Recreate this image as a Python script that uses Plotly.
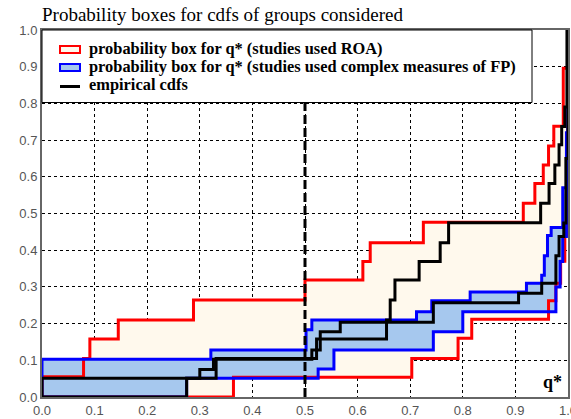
import plotly.graph_objects as go

# ---------------- data ----------------
# Probability box for q* (studies used ROA): upper (left) and lower (right) bounds
ROA_UPPER_X = [0.0, 0.079, 0.091, 0.145, 0.288, 0.500, 0.610, 0.624, 0.725, 0.915, 0.937, 0.953, 0.963, 0.973, 0.991, 1.0]
ROA_UPPER_Y = [0.055, 0.105, 0.158, 0.210, 0.264, 0.319, 0.369, 0.420, 0.476, 0.528, 0.582, 0.632, 0.684, 0.738, 0.896, 1.0]
ROA_LOWER_X = [0.364, 0.703, 0.791, 0.817, 0.963, 0.977, 0.986, 0.994, 1.0]
ROA_LOWER_Y = [0.054, 0.105, 0.160, 0.212, 0.262, 0.310, 0.370, 0.440, 1.0]

# Probability box for q* (studies used complex measures of FP)
CFP_UPPER_X = [0.0, 0.321, 0.502, 0.513, 0.712, 0.741, 0.814, 0.921, 0.950, 0.955, 0.961, 0.968, 0.990, 0.997, 1.0]
CFP_UPPER_Y = [0.103, 0.128, 0.183, 0.210, 0.232, 0.262, 0.286, 0.310, 0.332, 0.385, 0.440, 0.462, 0.570, 0.720, 1.0]
CFP_LOWER_X = [0.275, 0.525, 0.555, 0.744, 0.800, 0.977, 0.985, 0.990, 0.997, 1.0]
CFP_LOWER_Y = [0.051, 0.076, 0.128, 0.178, 0.232, 0.300, 0.369, 0.437, 0.550, 1.0]

# Empirical cdfs
ECDF_ROA_X = [0.275, 0.331, 0.522, 0.655, 0.662, 0.671, 0.717, 0.757, 0.773, 0.948, 0.964, 0.975, 0.983, 0.988, 0.994, 0.998]
ECDF_ROA_Y = [0.051, 0.105, 0.158, 0.210, 0.264, 0.319, 0.369, 0.420, 0.475, 0.528, 0.582, 0.632, 0.687, 0.737, 0.790, 1.0]
ECDF_CFP_X = [0.0, 0.300, 0.326, 0.513, 0.529, 0.567, 0.744, 0.906, 0.950, 0.977, 0.983, 0.992, 0.996, 1.0]
ECDF_CFP_Y = [0.051, 0.075, 0.103, 0.128, 0.178, 0.204, 0.257, 0.283, 0.310, 0.385, 0.437, 0.474, 0.650, 1.0]

THRESHOLD_Q = 0.5
TICKS = [round(i * 0.1, 1) for i in range(11)]
TICK_LABELS = [f"{t:.1f}" for t in TICKS]

LEGEND_NAMES = [
    "probability box for q* (studies used ROA)",
    "probability box for q* (studies used complex measures of FP)",
    "empirical cdfs",
]
TITLE = "Probability boxes for cdfs of groups considered"
AXIS_LABEL = "q*"


def steps(xs, ys):
    """Vertices of a right-continuous step cdf starting at (0, 0)."""
    px, py = [0.0], [0.0]
    cur = 0.0
    for x, y in zip(xs, ys):
        px += [x, x]
        py += [cur, y]
        cur = y
    return px, py


RED = "#FF0000"
BLUE = "#0000FF"
BEIGE = "rgb(255,249,237)"
LIGHTBLUE = "rgb(166,200,238)"
SERIF = "Liberation Serif, Times New Roman, serif"
SANS = "Liberation Sans, Arial, sans-serif"

fig = go.Figure()

# filled p-boxes
for (ux, uy, lx, ly, fillc, linec, name) in [
    (ROA_UPPER_X, ROA_UPPER_Y, ROA_LOWER_X, ROA_LOWER_Y, BEIGE, RED, LEGEND_NAMES[0]),
    (CFP_UPPER_X, CFP_UPPER_Y, CFP_LOWER_X, CFP_LOWER_Y, LIGHTBLUE, BLUE, LEGEND_NAMES[1]),
]:
    ax, ay = steps(ux, uy)
    bx, by = steps(lx, ly)
    fig.add_trace(go.Scatter(
        x=ax + bx[::-1], y=ay + by[::-1], mode="lines", fill="toself",
        fillcolor=fillc, line=dict(color=linec, width=0), name=name,
        showlegend=False, hoverinfo="skip",
    ))

# bound lines on top
for (ux, uy, lx, ly, linec) in [
    (ROA_UPPER_X, ROA_UPPER_Y, ROA_LOWER_X, ROA_LOWER_Y, RED),
    (CFP_UPPER_X, CFP_UPPER_Y, CFP_LOWER_X, CFP_LOWER_Y, BLUE),
]:
    for xs, ys in [(ux, uy), (lx, ly)]:
        sx, sy = steps(xs, ys)
        fig.add_trace(go.Scatter(x=sx, y=sy, mode="lines",
                                 line=dict(color=linec, width=3),
                                 showlegend=False, hoverinfo="skip"))

# empirical cdfs
for xs, ys in [(ECDF_ROA_X, ECDF_ROA_Y), (ECDF_CFP_X, ECDF_CFP_Y)]:
    sx, sy = steps(xs, ys)
    fig.add_trace(go.Scatter(x=sx, y=sy, mode="lines",
                             line=dict(color="black", width=3),
                             name=LEGEND_NAMES[2], showlegend=False,
                             hoverinfo="skip"))

axis_common = dict(
    range=[0, 1], tickvals=TICKS, ticktext=TICK_LABELS,
    showgrid=True, gridcolor="black", gridwidth=1, griddash="3px,3px",
    zeroline=False, showline=True, linecolor="#666", linewidth=2, mirror=True,
    ticks="", tickfont=dict(family=SANS, size=13, color="#555"),
    ticklabeloverflow="allow", fixedrange=True,
)


def px2x(p):
    return (p - 42) / 526


def py2y(p):
    return (397 - p) / 367


# legend drawn as a boxed key (white panel, swatches, labels)
shapes = [
    dict(type="line", xref="x", yref="y", x0=THRESHOLD_Q, x1=THRESHOLD_Q, y0=0, y1=1,
         line=dict(color="black", width=3, dash="9px,4px"), layer="above"),
    dict(type="rect", xref="paper", yref="paper", x0=0, x1=px2x(532), y0=py2y(102.5), y1=1,
         fillcolor="white", line=dict(color="black", width=1), layer="above"),
    dict(type="rect", xref="paper", yref="paper", x0=px2x(60), x1=px2x(80),
         y0=py2y(53), y1=py2y(46), fillcolor=BEIGE, line=dict(color=RED, width=2), layer="above"),
    dict(type="rect", xref="paper", yref="paper", x0=px2x(60), x1=px2x(80),
         y0=py2y(71), y1=py2y(64), fillcolor=LIGHTBLUE, line=dict(color=BLUE, width=2), layer="above"),
    dict(type="line", xref="paper", yref="paper", x0=px2x(60), x1=px2x(80),
         y0=py2y(86.5), y1=py2y(86.5), line=dict(color="black", width=3), layer="above"),
]

annotations = [
    dict(text=f"<b>{name}</b>", xref="paper", yref="paper", x=px2x(87), y=py2y(rowy),
         xanchor="left", yanchor="middle", showarrow=False,
         font=dict(family=SERIF, size=16.4, color="black"))
    for name, rowy in zip(LEGEND_NAMES, [48.5, 66.5, 84.5])
]
annotations.append(
    dict(text=f"<b>{AXIS_LABEL}</b>", xref="paper", yref="paper", x=px2x(564), y=py2y(382),
         xanchor="right", yanchor="middle", showarrow=False,
         font=dict(family=SERIF, size=18, color="black"))
)

fig.update_layout(
    width=571, height=419,
    margin=dict(l=42, r=3, t=30, b=22, autoexpand=False),
    paper_bgcolor="white", plot_bgcolor="white",
    xaxis=axis_common, yaxis=axis_common,
    title=dict(text=TITLE, x=0, xref="paper", xanchor="left",
               y=1 - 14 / 419, yref="container", yanchor="middle",
               font=dict(family=SERIF, size=19, color="black")),
    showlegend=False,
    shapes=shapes,
    annotations=annotations,
)

fig.write_html("out.html", config={"displayModeBar": False},
               post_script="document.body.style.margin='0px';")
